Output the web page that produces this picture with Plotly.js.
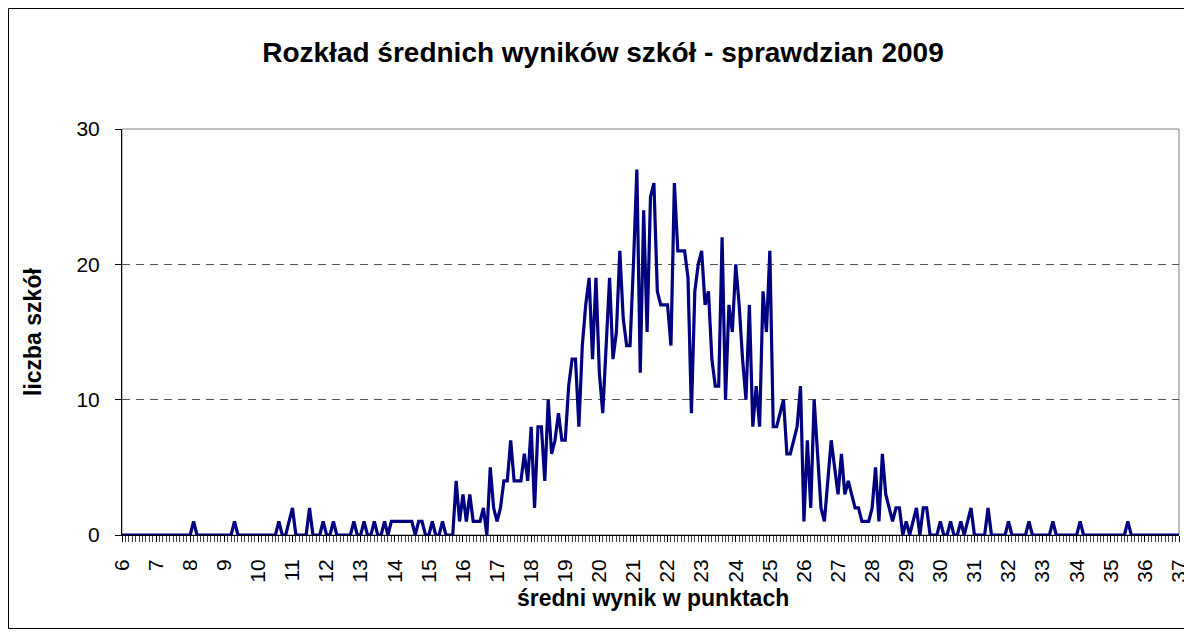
<!DOCTYPE html>
<html><head><meta charset="utf-8">
<script src="https://cdn.plot.ly/plotly-3.0.1.min.js"></script>
<style>html,body{margin:0;padding:0;background:#fff}#chart{width:1184px;height:636px}</style>
</head><body><div id="chart"></div>
<script>
const chartTitle = 'Rozkład średnich wyników szkół - sprawdzian 2009';
const xTitle = 'średni wynik w punktach';
const yTitle = 'liczba szkół';

const scoreBins = [
6,6.1,6.2,6.3,6.4,6.5,6.6,6.7,6.8,6.9,
7,7.1,7.2,7.3,7.4,7.5,7.6,7.7,7.8,7.9,
8,8.1,8.2,8.3,8.4,8.5,8.6,8.7,8.8,8.9,
9,9.1,9.2,9.3,9.4,9.5,9.6,9.7,9.8,9.9,
10,10.1,10.2,10.3,10.4,10.5,10.6,10.7,10.8,10.9,
11,11.1,11.2,11.3,11.4,11.5,11.6,11.7,11.8,11.9,
12,12.1,12.2,12.3,12.4,12.5,12.6,12.7,12.8,12.9,
13,13.1,13.2,13.3,13.4,13.5,13.6,13.7,13.8,13.9,
14,14.1,14.2,14.3,14.4,14.5,14.6,14.7,14.8,14.9,
15,15.1,15.2,15.3,15.4,15.5,15.6,15.7,15.8,15.9,
16,16.1,16.2,16.3,16.4,16.5,16.6,16.7,16.8,16.9,
17,17.1,17.2,17.3,17.4,17.5,17.6,17.7,17.8,17.9,
18,18.1,18.2,18.3,18.4,18.5,18.6,18.7,18.8,18.9,
19,19.1,19.2,19.3,19.4,19.5,19.6,19.7,19.8,19.9,
20,20.1,20.2,20.3,20.4,20.5,20.6,20.7,20.8,20.9,
21,21.1,21.2,21.3,21.4,21.5,21.6,21.7,21.8,21.9,
22,22.1,22.2,22.3,22.4,22.5,22.6,22.7,22.8,22.9,
23,23.1,23.2,23.3,23.4,23.5,23.6,23.7,23.8,23.9,
24,24.1,24.2,24.3,24.4,24.5,24.6,24.7,24.8,24.9,
25,25.1,25.2,25.3,25.4,25.5,25.6,25.7,25.8,25.9,
26,26.1,26.2,26.3,26.4,26.5,26.6,26.7,26.8,26.9,
27,27.1,27.2,27.3,27.4,27.5,27.6,27.7,27.8,27.9,
28,28.1,28.2,28.3,28.4,28.5,28.6,28.7,28.8,28.9,
29,29.1,29.2,29.3,29.4,29.5,29.6,29.7,29.8,29.9,
30,30.1,30.2,30.3,30.4,30.5,30.6,30.7,30.8,30.9,
31,31.1,31.2,31.3,31.4,31.5,31.6,31.7,31.8,31.9,
32,32.1,32.2,32.3,32.4,32.5,32.6,32.7,32.8,32.9,
33,33.1,33.2,33.3,33.4,33.5,33.6,33.7,33.8,33.9,
34,34.1,34.2,34.3,34.4,34.5,34.6,34.7,34.8,34.9,
35,35.1,35.2,35.3,35.4,35.5,35.6,35.7,35.8,35.9,
36,36.1,36.2,36.3,36.4,36.5,36.6,36.7,36.8,36.9,
37];

const schoolCounts = [
0,0,0,0,0,0,0,0,0,0,
0,0,0,0,0,0,0,0,0,0,
0,1,0,0,0,0,0,0,0,0,
0,0,0,1,0,0,0,0,0,0,
0,0,0,0,0,0,1,0,0,1,
2,0,0,0,0,2,0,0,0,1,
0,0,1,0,0,0,0,0,1,0,
0,1,0,0,1,0,0,1,0,1,
1,1,1,1,1,1,0,1,1,0,
0,1,0,0,1,0,0,0,4,1,
3,1,3,1,1,1,2,0,5,2,
1,2,4,4,7,4,4,4,6,4,
8,2,8,8,4,10,6,7,9,7,
7,11,13,13,8,14,17,19,13,19,
12,9,14,19,13,15,21,16,14,14,
20,27,12,24,15,25,26,18,17,17,
17,14,26,21,21,21,19,9,18,20,
21,17,18,13,11,11,22,10,17,15,
20,17,13,10,17,8,11,8,18,15,
21,8,8,9,10,6,6,7,8,11,
1,7,2,10,6,2,1,4,7,5,
3,6,3,4,3,2,2,1,1,1,
2,5,1,6,3,2,1,2,2,0,
1,0,1,2,0,2,2,0,0,0,
1,0,0,1,0,0,1,0,1,2,
0,0,0,0,2,0,0,0,0,0,
1,0,0,0,0,0,1,0,0,0,
0,0,0,1,0,0,0,0,0,0,
0,1,0,0,0,0,0,0,0,0,
0,0,0,0,0,1,0,0,0,0,
0,0,0,0,0,0,0,0,0,0,
0];

const xTickValues = [6,7,8,9,10,11,12,13,14,15,16,17,18,19,20,21,22,23,24,25,26,27,28,29,30,31,32,33,34,35,36,37];
const xTickLabels = ['6','7','8','9','10','11','12','13','14','15','16','17','18','19','20','21','22','23','24','25','26','27','28','29','30','31','32','33','34','35','36','37'];
const yTickValues = [0,10,20,30];
const yTickLabels = ['0','10','20','30'];

const FONT = 'Liberation Sans, Arial, sans-serif';

const trace = {
  x: scoreBins, y: schoolCounts, type: 'scatter', mode: 'lines',
  line: {color: '#000080', width: 3.2}, hoverinfo: 'skip'
};

const L = 122, R = 1179, T = 129, B = 535, W = 1184, H = 636;
const pw = R - L, ph = B - T;
const px = v => (v - L) / pw;
const py = v => (B - v) / ph;

const layout = {
  width: W, height: H,
  margin: {l: L, r: W - R, t: T, b: H - B, pad: 0},
  paper_bgcolor: '#ffffff', plot_bgcolor: '#ffffff',
  showlegend: false,
  font: {family: FONT, color: '#000'},
  title: {text: '<b>' + chartTitle + '</b>', font: {family: FONT, size: 28, color: '#000'},
          x: 603 / W, xanchor: 'center', y: 1 - 52 / H, yanchor: 'middle', xref: 'container', yref: 'container'},
  xaxis: {
    range: [6, 37], tickmode: 'array', tickvals: xTickValues, ticktext: xTickLabels,
    tickangle: -90, tickfont: {family: FONT, size: 21, color: '#000'}, ticklabelstandoff: 9,
    ticklabeloverflow: 'allow',
    showgrid: false, zeroline: false, showline: true, linecolor: '#000', linewidth: 1,
    ticks: 'outside', ticklen: 6, tickcolor: '#000', tickwidth: 1,
    minor: {dtick: 0.1, tick0: 6, ticks: 'outside', ticklen: 6, tickcolor: '#444', tickwidth: 1, showgrid: false},
    fixedrange: true
  },
  yaxis: {
    range: [0, 30], tickmode: 'array', tickvals: yTickValues, ticktext: yTickLabels,
    tickfont: {family: FONT, size: 21, color: '#000'}, ticklabelstandoff: 11,
    showgrid: true, gridcolor: '#555', griddash: '8px,6px', gridwidth: 1,
    zeroline: false, showline: true, linecolor: '#000', linewidth: 1,
    ticks: 'outside', ticklen: 6, tickcolor: '#000', tickwidth: 1,
    fixedrange: true
  },
  annotations: [
    {text: '<b>' + yTitle + '</b>', xref: 'paper', yref: 'paper', x: px(33), y: 0.5,
     xanchor: 'center', yanchor: 'middle', textangle: -90, showarrow: false,
     font: {family: FONT, size: 23, color: '#000'}},
    {text: '<b>' + xTitle + '</b>', xref: 'paper', yref: 'paper', x: px(653), y: py(598),
     xanchor: 'center', yanchor: 'middle', showarrow: false,
     font: {family: FONT, size: 23, color: '#000'}}
  ],
  shapes: [
    {type: 'rect', xref: 'paper', yref: 'paper', x0: 0, x1: 1, y0: 0, y1: 1,
     line: {color: '#808080', width: 1}, layer: 'below'},
    {type: 'rect', xref: 'paper', yref: 'paper', x0: px(8.5), x1: px(1200), y0: py(628.5), y1: py(8.5),
     line: {color: '#000', width: 1}, layer: 'below'}
  ]
};

Plotly.newPlot('chart', [trace], layout, {displayModeBar: false, staticPlot: true});
</script></body></html>
